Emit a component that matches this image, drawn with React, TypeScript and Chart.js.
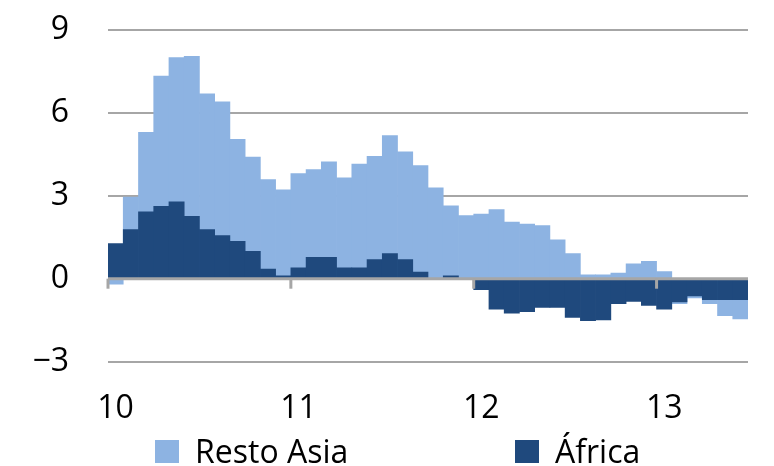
import React, { useEffect, useRef } from 'react';
import { Chart, registerables } from 'chart.js';

Chart.register(...registerables);

const months = [
  'ene-10', 'feb-10', 'mar-10', 'abr-10', 'may-10', 'jun-10', 'jul-10', 'ago-10', 'sep-10', 'oct-10', 'nov-10', 'dic-10',
  'ene-11', 'feb-11', 'mar-11', 'abr-11', 'may-11', 'jun-11', 'jul-11', 'ago-11', 'sep-11', 'oct-11', 'nov-11', 'dic-11',
  'ene-12', 'feb-12', 'mar-12', 'abr-12', 'may-12', 'jun-12', 'jul-12', 'ago-12', 'sep-12', 'oct-12', 'nov-12', 'dic-12',
  'ene-13', 'feb-13', 'mar-13', 'abr-13', 'may-13', 'jun-13',
];

const yearLabels = ['10', '11', '12', '13'];

const restoAsia = [
  -0.2, 2.95, 5.3, 7.33, 8.0, 8.05, 6.69, 6.4, 5.04, 4.4, 3.59, 3.22,
  3.8, 3.95, 4.23, 3.65, 4.15, 4.43, 5.18, 4.59, 4.09, 3.29, 2.64, 2.28,
  2.34, 2.5, 2.05, 1.98, 1.92, 1.41, 0.91, 0.14, 0.14, 0.2, 0.54, 0.63,
  0.26, -0.9, -0.7, -0.9, -1.34, -1.46,
];

const africa = [
  1.27, 1.78, 2.42, 2.62, 2.78, 2.26, 1.78, 1.56, 1.35, 0.99, 0.35, 0.1,
  0.39, 0.77, 0.77, 0.39, 0.39, 0.69, 0.91, 0.69, 0.24, 0, 0.1, 0,
  -0.4, -1.1, -1.25, -1.19, -1.04, -1.04, -1.4, -1.52, -1.49, -0.9, -0.82, -0.97,
  -1.1, -0.84, -0.62, -0.76, -0.76, -0.76,
];

const seriesNames = ['Resto Asia', 'África'];
const seriesColors = ['#8DB3E2', '#1F497D'];

const yMin = -3;
const yMax = 9;
const yStep = 3;

const FONT = '"Open Sans", "Noto Sans", sans-serif';
const AXIS_GREY = '#A6A6A6';

const zeroAxisPlugin = {
  id: 'zeroAxis',
  afterDatasetsDraw(chart: any) {
    const { ctx, chartArea } = chart;
    const xs = chart.scales.x;
    const ys = chart.scales.y;
    const y0 = ys.getPixelForValue(0);
    ctx.save();
    ctx.strokeStyle = AXIS_GREY;
    ctx.lineWidth = 3;
    ctx.beginPath();
    ctx.moveTo(chartArea.left, y0);
    ctx.lineTo(chartArea.right, y0);
    ctx.stroke();
    const half = (xs.getPixelForValue(1) - xs.getPixelForValue(0)) / 2;
    months.forEach((m, i) => {
      if (i % 12 !== 0) return;
      const x = xs.getPixelForValue(i) - half;
      ctx.beginPath();
      ctx.moveTo(x, y0);
      ctx.lineTo(x, y0 + 10);
      ctx.stroke();
    });
    ctx.restore();
  },
};

export default function App() {
  const canvasRef = useRef<HTMLCanvasElement | null>(null);

  useEffect(() => {
    if (!canvasRef.current) return;
    const chart = new Chart(canvasRef.current, {
      type: 'bar',
      data: {
        labels: months,
        datasets: [
          {
            label: seriesNames[0],
            data: restoAsia,
            backgroundColor: seriesColors[0],
            borderWidth: 0,
            grouped: false,
            order: 1,
            barPercentage: 1,
            categoryPercentage: 1,
          },
          {
            label: seriesNames[1],
            data: africa,
            backgroundColor: seriesColors[1],
            borderWidth: 0,
            grouped: false,
            order: 0,
            barPercentage: 1,
            categoryPercentage: 1,
          },
        ],
      },
      options: {
        animation: false,
        responsive: false,
        maintainAspectRatio: false,
        layout: { padding: { top: 30, right: 26, bottom: 10, left: 0 } },
        plugins: {
          legend: { display: false },
          tooltip: { enabled: false },
        },
        scales: {
          x: {
            type: 'category',
            offset: true,
            grid: { display: false, drawTicks: false },
            border: { display: false },
            ticks: {
              autoSkip: false,
              maxRotation: 0,
              minRotation: 0,
              padding: 28,
              color: '#000',
              font: { family: FONT, size: 32 },
              callback: (_v: any, i: number) => (i % 12 === 0 ? yearLabels[i / 12] : ''),
            },
          },
          y: {
            min: yMin,
            max: yMax,
            afterFit: (scale: any) => {
              scale.width = 108;
            },
            grid: {
              drawTicks: true,
              tickLength: 39,
              tickColor: 'rgba(0,0,0,0)',
              lineWidth: 2,
              color: (c: any) => (c.tick && c.tick.value === 0 ? 'rgba(0,0,0,0)' : AXIS_GREY),
            },
            border: { display: false },
            ticks: {
              stepSize: yStep,
              padding: 0,
              color: '#000',
              font: { family: FONT, size: 32 },
              callback: (v: any) => (Number(v) < 0 ? '\u2212' + Math.abs(Number(v)) : String(v)),
            },
          },
        },
      },
      plugins: [zeroAxisPlugin],
    });
    return () => chart.destroy();
  }, []);

  const legendItem = (i: number, left: number) => (
    <div
      key={i}
      style={{
        position: 'absolute',
        left,
        top: 435,
        height: 32,
        display: 'flex',
        alignItems: 'center',
        fontFamily: FONT,
        fontSize: 32,
        lineHeight: '32px',
        color: '#000',
        whiteSpace: 'nowrap',
      }}
    >
      <span style={{ display: 'inline-block', width: 24, height: 23, background: seriesColors[i], marginRight: 16 }} />
      <span>{seriesNames[i]}</span>
    </div>
  );

  return (
    <div style={{ position: 'absolute', left: 0, top: 0, width: 774, height: 466, background: '#fff' }}>
      <canvas ref={canvasRef} width={774} height={466} style={{ position: 'absolute', left: 0, top: 0 }} />
      {legendItem(0, 155)}
      {legendItem(1, 515)}
    </div>
  );
}
